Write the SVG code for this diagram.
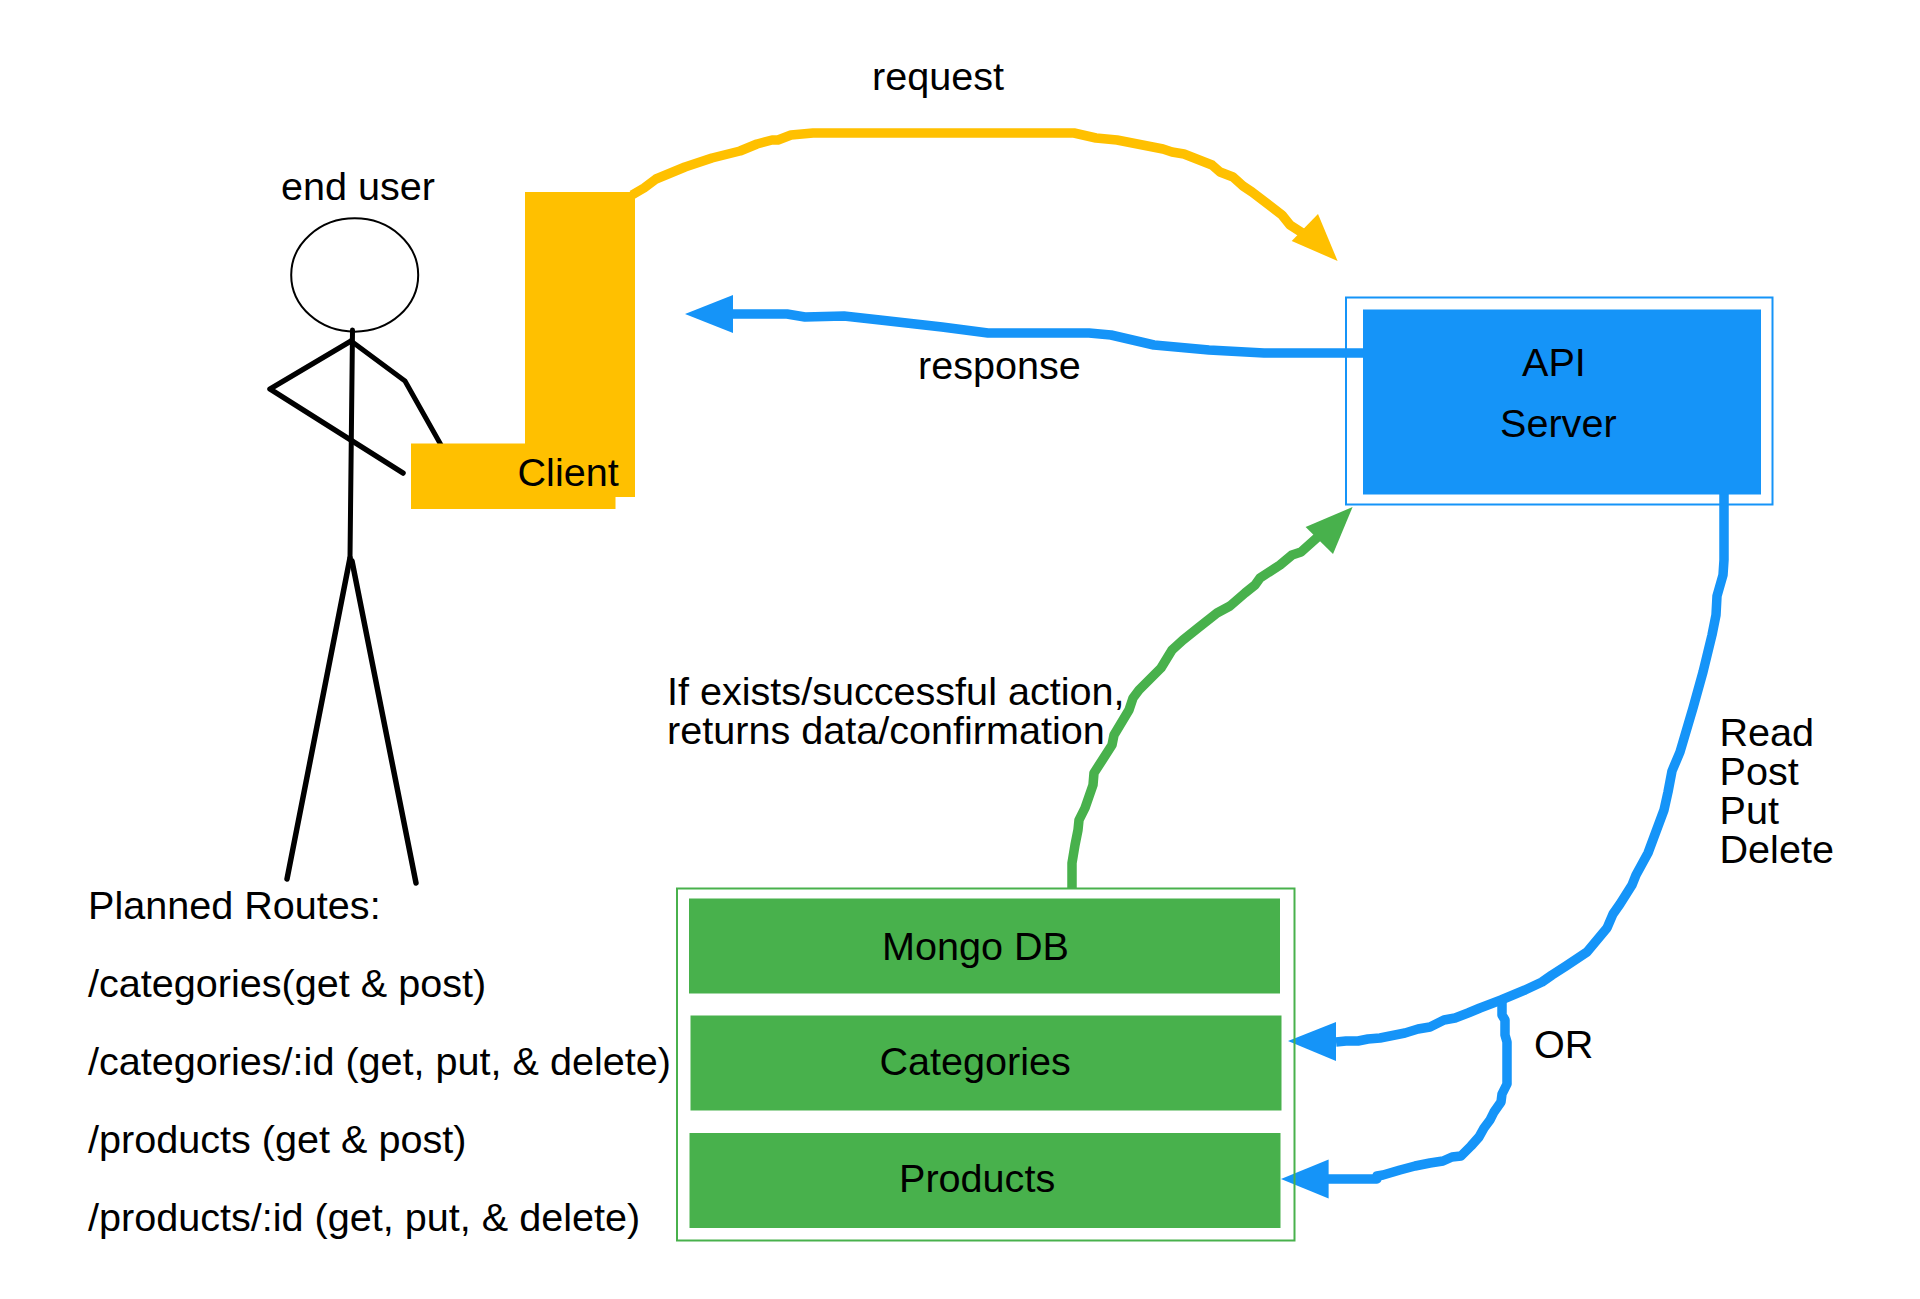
<svg xmlns="http://www.w3.org/2000/svg" width="1920" height="1299" viewBox="0 0 1920 1299">
<style>
text{font-family:"Liberation Sans",Arial,sans-serif;font-size:39.6px;fill:#000}
.c{fill:none;stroke-width:9.5;stroke-linejoin:round}
.by{stroke:#ffc000}.bb{stroke:#1594f8}.bg{stroke:#48b14c}
.fy{fill:#ffc000}.fb{fill:#1594f8}.fg{fill:#48b14c}
.f{fill:none;stroke:#000;stroke-linecap:round;stroke-linejoin:round}
</style>
<rect width="1920" height="1299" fill="#fff"/>
<g id="connectors">
<polyline class="c by" points="632,195 644,188 656,179 685,167 712,158 740,151 757,144 772,140 778,140 791,135 813,133 860,133 1074,133 1096,138 1117,140 1163,149 1172,152 1184,154 1212,165 1220,172 1233,177 1243,186 1252,192 1282,215 1290,225 1304,234"/>
<polygon class="fy" points="1337.6,261 1318,214 1291.7,241"/>
<polyline class="c bb" points="1363,353 1264,353 1209,350 1154,345 1111,335 1089,333 988,333 942,327 880,320 844,316 805,317 787,314 733,314"/>
<polygon class="fb" points="685,314 733,295 733,333"/>
<polyline class="c bg" points="1072,889 1072,863 1075,845 1078,830 1079,820 1085,808 1093,785 1094,773 1112,745 1114,735 1129,710 1133,698 1139,690 1149,680 1161,668 1172,650 1183,640 1198,628 1217,613 1230,606 1245,593 1255,585 1260,578 1280,565 1292,555 1301,552 1320,535"/>
<polygon class="fg" points="1352.6,507 1305.6,527 1333,554"/>
<polyline class="c bb" points="1724,494 1724,560 1723,575 1717,596 1716,615 1712,635 1703,672 1693,708 1680,752 1672,771 1668,792 1664,810 1648,853 1636,875 1632,885 1620,904 1613,914 1607,928 1587,952 1566,966 1552,975 1542,982 1525,990 1501,1000 1480,1008 1468,1013 1455,1018 1444,1020 1430,1027 1418,1029 1405,1033 1380,1038 1368,1039 1358,1041 1346,1041 1336,1042"/>
<polygon class="fb" points="1288,1041 1336,1022 1336,1061"/>
<polyline class="c bb" points="1502,1000 1502,1015 1505,1020 1505,1035 1507,1042 1507,1084 1502,1094 1501,1102 1494,1112 1490,1120 1484,1128 1479,1137 1471,1146 1461,1156 1452,1157 1443,1161 1430,1163 1415,1166 1400,1170 1383,1175 1377,1176 1377,1179 1328,1179"/>
<polygon class="fb" points="1281,1179 1328.6,1159.6 1328.6,1198.400"/>
</g>
<g id="end-user">
<ellipse cx="354.7" cy="275" rx="63.5" ry="56.7" fill="#fff" stroke="#000" stroke-width="2"/>
<polyline class="f" stroke-width="5" points="352.500,330 350,558"/>
<polyline class="f" stroke-width="5.500" points="351,341 270,389 403,473"/>
<polyline class="f" stroke-width="5" points="351,341 405,381 441,445"/>
<polyline class="f" stroke-width="5.500" points="350,558 287,879"/>
<polyline class="f" stroke-width="5.500" points="352,561 416,883"/>
<text x="281" y="200">end user</text>
</g>
<g id="client">
<polygon class="fy" points="525,192 635,192 635,497 615.5,497 615.5,509 411,509 411,443.5 525,443.5"/>
<text x="517.500" y="486">Client</text>
</g>
<g id="api-server">
<rect x="1346" y="297.500" width="426.500" height="207" fill="none" stroke="#1594f8" stroke-width="2"/>
<rect x="1363" y="309.500" width="398" height="185" class="fb"/>
<text x="1522" y="376">API</text>
<text x="1500" y="437">Server</text>
</g>
<g id="database">
<rect x="677" y="888.500" width="617.500" height="352" fill="none" stroke="#48b14c" stroke-width="2"/>
<rect x="689" y="898.500" width="591" height="95" class="fg"/>
<rect x="690.500" y="1015.500" width="591" height="95" class="fg"/>
<rect x="689.500" y="1133" width="591" height="95" class="fg"/>
<text x="882" y="960">Mongo DB</text>
<text x="879.500" y="1074.500">Categories</text>
<text x="899" y="1191.500">Products</text>
</g>
<g id="labels">
<text x="872" y="90">request</text>
<text x="918" y="378.500">response</text>
<text x="667" y="705">If exists/successful action,</text>
<text x="667" y="744">returns data/confirmation</text>
<text x="1719.500" y="745.500">Read</text>
<text x="1719.500" y="784.500">Post</text>
<text x="1719.500" y="823.500">Put</text>
<text x="1719.500" y="862.500">Delete</text>
<text x="1534" y="1057.500">OR</text>
<text x="88" y="918.500">Planned Routes:</text>
<text x="88" y="997">/categories(get &amp; post)</text>
<text x="88" y="1075">/categories/:id (get, put, &amp; delete)</text>
<text x="88" y="1153">/products (get &amp; post)</text>
<text x="88" y="1231">/products/:id (get, put, &amp; delete)</text>
</g>
</svg>
